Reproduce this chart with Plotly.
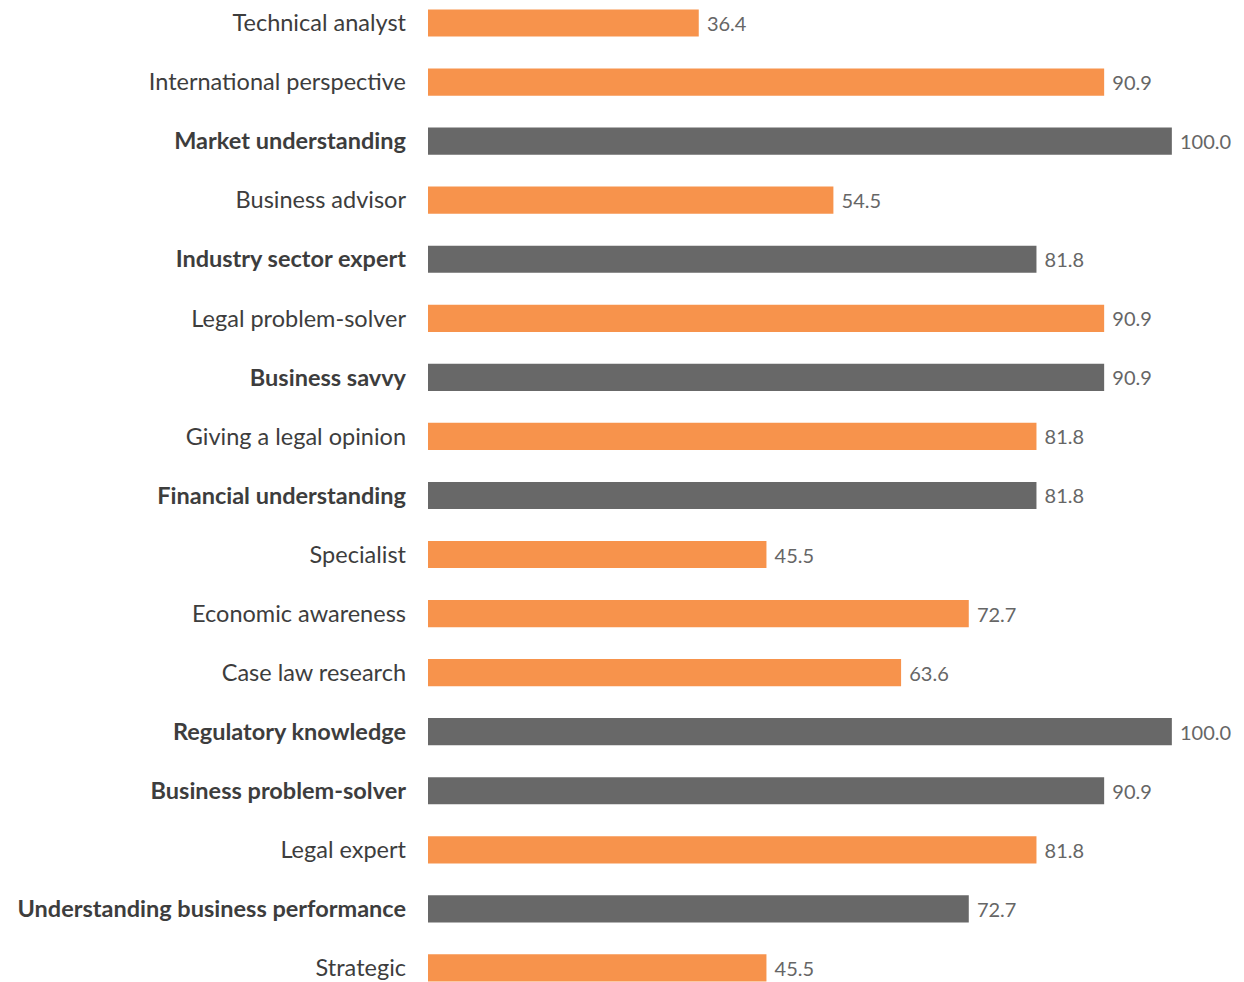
import plotly.graph_objects as go

categories = [
    "Technical analyst", "International perspective", "Market understanding",
    "Business advisor", "Industry sector expert", "Legal problem-solver",
    "Business savvy", "Giving a legal opinion", "Financial understanding",
    "Specialist", "Economic awareness", "Case law research",
    "Regulatory knowledge", "Business problem-solver", "Legal expert",
    "Understanding business performance", "Strategic",
]
values = [36.4, 90.9, 100.0, 54.5, 81.8, 90.9, 90.9, 81.8, 81.8,
          45.5, 72.7, 63.6, 100.0, 90.9, 81.8, 72.7, 45.5]
highlighted = [
    "Market understanding", "Industry sector expert", "Business savvy",
    "Financial understanding", "Regulatory knowledge",
    "Business problem-solver", "Understanding business performance",
]

ORANGE = "#F7934C"
GRAY = "#686868"
colors = [GRAY if c in highlighted else ORANGE for c in categories]
tick_text = [f"<b>{c}</b>" if c in highlighted else c for c in categories]
idx = list(range(len(categories)))

fig = go.Figure(go.Bar(
    x=values, y=idx, orientation="h",
    marker=dict(color=colors, line=dict(width=0)),
    width=0.46,
    text=[f" {v:.1f}" for v in values],
    textposition="outside",
    textfont=dict(family="Lato, sans-serif", size=20, color="#666666"),
    cliponaxis=False,
    hoverinfo="skip",
))

fig.update_layout(
    width=1236, height=974,
    margin=dict(l=420, r=0, t=0, b=0),
    paper_bgcolor="white", plot_bgcolor="white",
    showlegend=False,
    xaxis=dict(range=[0, 109.7], visible=False, fixedrange=True),
    yaxis=dict(
        range=[16.238, -0.254], tickmode="array", tickvals=idx, ticktext=tick_text,
        showgrid=False, zeroline=False, showline=False, ticks="",
        ticklabelstandoff=21, fixedrange=True,
        tickfont=dict(family="Lato, sans-serif", size=23.5, color="#3d3d3d"),
    ),
)

fig.write_html("out.html")
